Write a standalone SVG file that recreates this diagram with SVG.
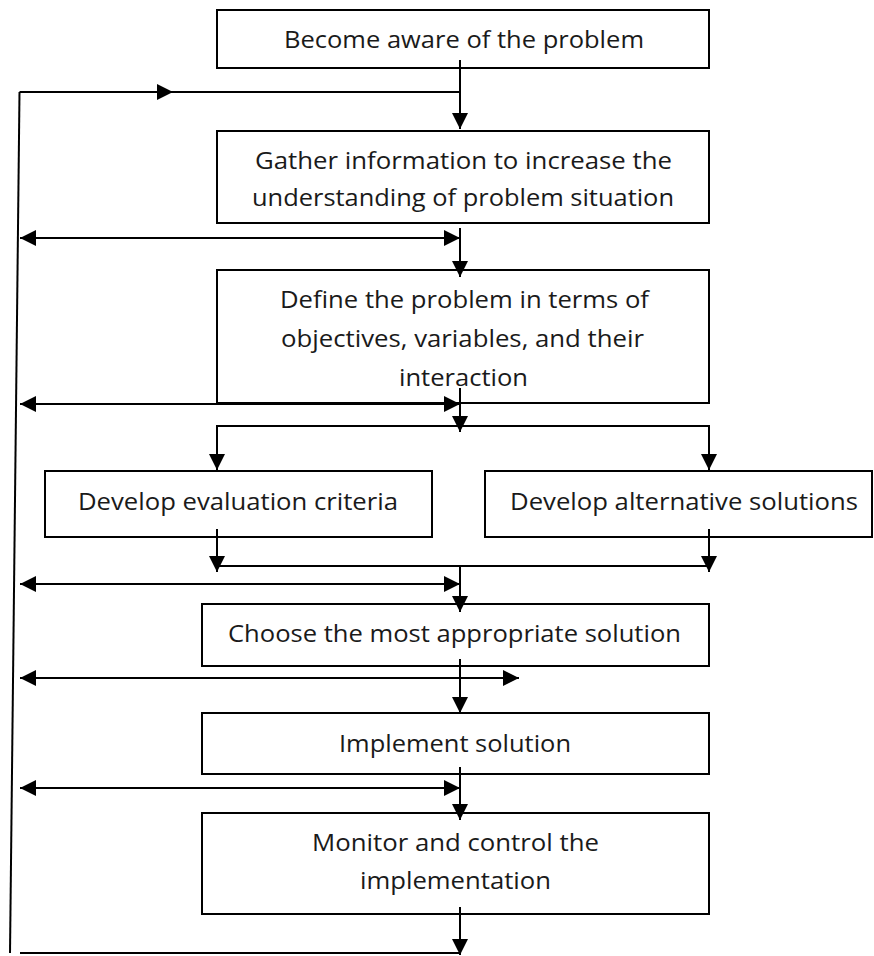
<svg xmlns="http://www.w3.org/2000/svg" width="874" height="956" viewBox="0 0 874 956">
<defs>
<marker id="ah" markerUnits="userSpaceOnUse" markerWidth="18" markerHeight="18" refX="16" refY="8" orient="auto-start-reverse" overflow="visible">
<path d="M0,0 L16,8 L0,16 z" fill="#000"/>
</marker>
<style>
.box{fill:#fff;stroke:#000;stroke-width:2}
.t{font-family:"Open Sans","Liberation Sans",sans-serif;font-size:24px;fill:#1a1a1a}
.c{fill:none;stroke:#000;stroke-width:2}
.a{marker-end:url(#ah)}
.d{marker-start:url(#ah);marker-end:url(#ah)}
</style>
</defs>
<rect width="874" height="956" fill="#fff"/>
<g id="n1"><rect class="box" x="217" y="10" width="492" height="58"/>
<text class="t" x="284" y="48" textLength="360" lengthAdjust="spacingAndGlyphs">Become aware of the problem</text></g>
<g id="n2"><rect class="box" x="217" y="131" width="492" height="92"/>
<text class="t" x="255" y="169" textLength="417" lengthAdjust="spacingAndGlyphs">Gather information to increase the</text>
<text class="t" x="252" y="206" textLength="422" lengthAdjust="spacingAndGlyphs">understanding of problem situation</text></g>
<g id="n3"><rect class="box" x="217" y="270" width="492" height="133"/>
<text class="t" x="280" y="308" textLength="369" lengthAdjust="spacingAndGlyphs">Define the problem in terms of</text>
<text class="t" x="281" y="347" textLength="363" lengthAdjust="spacingAndGlyphs">objectives, variables, and their</text>
<text class="t" x="399" y="386" textLength="129" lengthAdjust="spacingAndGlyphs">interaction</text></g>
<g id="n4"><rect class="box" x="45" y="471" width="387" height="66"/>
<text class="t" x="78" y="510" textLength="320" lengthAdjust="spacingAndGlyphs">Develop evaluation criteria</text></g>
<g id="n5"><rect class="box" x="485" y="471" width="387" height="66"/>
<text class="t" x="510" y="510" textLength="348" lengthAdjust="spacingAndGlyphs">Develop alternative solutions</text></g>
<g id="n6"><rect class="box" x="202" y="604" width="507" height="62"/>
<text class="t" x="228" y="642" textLength="453" lengthAdjust="spacingAndGlyphs">Choose the most appropriate solution</text></g>
<g id="n7"><rect class="box" x="202" y="713" width="507" height="61"/>
<text class="t" x="339" y="752" textLength="232" lengthAdjust="spacingAndGlyphs">Implement solution</text></g>
<g id="n8"><rect class="box" x="202" y="813" width="507" height="101"/>
<text class="t" x="312" y="851" textLength="287" lengthAdjust="spacingAndGlyphs">Monitor and control the</text>
<text class="t" x="360" y="889" textLength="191" lengthAdjust="spacingAndGlyphs">implementation</text></g>
<g id="connectors">
<line class="c a" x1="460" y1="60" x2="460" y2="129"/>
<line class="c a" x1="460" y1="228" x2="460" y2="277"/>
<line class="c a" x1="460" y1="388" x2="460" y2="432"/>
<polyline class="c" points="217,456 217,426 709,426 709,456"/>
<line class="c a" x1="217" y1="426" x2="217" y2="470"/>
<line class="c a" x1="709" y1="426" x2="709" y2="470"/>
<line class="c a" x1="217" y1="529" x2="217" y2="572"/>
<line class="c a" x1="709" y1="529" x2="709" y2="572"/>
<line class="c" x1="217" y1="566" x2="709" y2="566"/>
<line class="c a" x1="460" y1="566" x2="460" y2="612"/>
<line class="c a" x1="460" y1="659" x2="460" y2="713"/>
<line class="c a" x1="460" y1="767" x2="460" y2="820"/>
<line class="c a" x1="460" y1="907" x2="460" y2="955"/>
<line class="c" x1="19.5" y1="92" x2="10" y2="953"/>
<line class="c a" x1="19.5" y1="92" x2="173" y2="92"/>
<line class="c" x1="173" y1="92" x2="460" y2="92"/>
<line class="c d" x1="20" y1="238" x2="460" y2="238"/>
<line class="c d" x1="20" y1="404" x2="460" y2="404"/>
<line class="c d" x1="20" y1="584" x2="460" y2="584"/>
<line class="c d" x1="20" y1="678" x2="519" y2="678"/>
<line class="c d" x1="20" y1="788" x2="460" y2="788"/>
<line class="c" x1="20" y1="953" x2="460" y2="953"/>
</g>
</svg>
